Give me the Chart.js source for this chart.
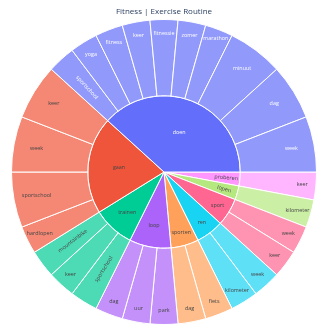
<!DOCTYPE html>
<html>
<head>
<meta charset="utf-8">
<title>Fitness | Exercise Routine</title>
<script src="https://cdn.jsdelivr.net/npm/chart.js@4.4.1/dist/chart.umd.min.js"></script>
<style>
    html, body { margin: 0; padding: 0; background: #fff; }
    #wrap { width: 330px; height: 330px; }
</style>
</head>
<body>
<div id="wrap"><canvas id="sunburst"></canvas></div>
<script>
// Inner ring: verbs, in the reference's order (counter-clockwise from 3 o'clock)
const verbs = ['doen', 'gaan', 'trainen', 'loop', 'sporten', 'ren', 'sport', 'lopen', 'proberen'];
const verbColors = ['#636efa', '#EF553B', '#00cc96', '#ab63fa', '#FFA15A', '#19d3f3', '#FF6692', '#B6E880', '#FF97FF'];

// Outer ring: words under each verb, with their counts
const nouns = [
    ['week', 'dag', 'minuut', 'marathon', 'zomer', 'fitnessie', 'keer', 'fitness', 'yoga', 'sportschool'],
    ['keer', 'week', 'sportschool', 'hardlopen'],
    ['mountainbike', 'keer', 'sportschool'],
    ['dag', 'uur', 'park'],
    ['dag', 'fiets'],
    ['kilometer', 'week'],
    ['keer', 'week'],
    ['kilometer'],
    ['keer']
];
const nounCounts = [
    [2, 2, 2, 1, 1, 1, 1, 1, 1, 1],
    [2, 2, 2, 1],
    [1, 1, 1],
    [1, 1, 1],
    [1, 1],
    [1, 1],
    [1, 1],
    [1],
    [1]
];

function hexToRgb(hex) {
    const n = parseInt(hex.slice(1), 16);
    return [(n >> 16) & 255, (n >> 8) & 255, n & 255];
}

function textColorFor(hex) {
    const [r, g, b] = hexToRgb(hex);
    const brightness = (r * 299 + g * 587 + b * 114) / 1000;
    return brightness >= 128 ? '#444' : '#fff';
}

// Chart.js draws clockwise, the reference runs counter-clockwise -> reverse
const innerNames = [], innerValues = [], innerColors = [], innerText = [];
const outerNames = [], outerValues = [], outerColors = [], outerText = [];

for (let i = verbs.length - 1; i >= 0; i--) {
    const counts = nounCounts[i];
    innerNames.push(verbs[i]);
    innerValues.push(counts.reduce((a, b) => a + b, 0));
    innerColors.push(verbColors[i]);
    innerText.push(textColorFor(verbColors[i]));

    const [r, g, b] = hexToRgb(verbColors[i]);
    for (let j = nouns[i].length - 1; j >= 0; j--) {
        outerNames.push(nouns[i][j]);
        outerValues.push(counts[j]);
        outerColors.push(`rgba(${r}, ${g}, ${b}, 0.7)`);
        outerText.push(textColorFor(verbColors[i]));
    }
}

// Labels inside the arcs: horizontal if they fit, else along the radius
const arcLabels = {
    id: 'arcLabels',
    afterDatasetsDraw(chart) {
        const ctx = chart.ctx;
        ctx.save();
        ctx.font = '5.4px "Open Sans"';
        ctx.textAlign = 'center';
        ctx.textBaseline = 'middle';

        chart.data.datasets.forEach((ds, di) => {
            const meta = chart.getDatasetMeta(di);
            meta.data.forEach((arc, i) => {
                const p = arc.getProps(['x', 'y', 'startAngle', 'endAngle', 'innerRadius', 'outerRadius'], true);
                const text = ds.names[i];
                const isPie = p.innerRadius < 1;
                const w = ctx.measureText(text).width + (isPie ? 1 : 0);
                const h = 6;
                const span = p.endAngle - p.startAngle;
                const mid = (p.startAngle + p.endAngle) / 2;
                const thick = p.outerRadius - p.innerRadius;

                function fits(cx, cy) {
                    const corners = [[-w / 2, -h / 2], [w / 2, -h / 2], [-w / 2, h / 2], [w / 2, h / 2]];
                    return corners.every(c => {
                        const dx = cx + c[0] - p.x;
                        const dy = cy + c[1] - p.y;
                        const r = Math.hypot(dx, dy);
                        if (r > p.outerRadius || r < p.innerRadius) return false;
                        if (r < 1) return true;
                        let a = Math.atan2(dy, dx);
                        while (a < p.startAngle) a += Math.PI * 2;
                        while (a > p.startAngle + Math.PI * 2) a -= Math.PI * 2;
                        const tol = 0.2 / r;
                        return a >= p.startAngle + tol && a <= p.endAngle - tol;
                    });
                }

                // narrow wedges of the centre pie push their label outwards,
                // the thinnest ones always go along the radius
                let fracs;
                if (isPie) fracs = span < 0.25 ? [] : [Math.min(0.5 + 0.12 / span, 0.85), 0.85, 0.8, 0.75];
                else fracs = span < 0.26 ? [0.82, 0.88] : [0.7];
                let pos = null;
                for (const f of fracs) {
                    const r = p.innerRadius + f * thick;
                    const cx = p.x + r * Math.cos(mid);
                    const cy = p.y + r * Math.sin(mid);
                    if (fits(cx, cy)) {
                        pos = { cx, cy, rot: 0 };
                        break;
                    }
                }
                if (!pos) {
                    const r = p.innerRadius + (isPie ? 0.82 : 0.5) * thick;
                    let rot = mid;
                    if (Math.cos(mid) < 0) rot += Math.PI;
                    pos = { cx: p.x + r * Math.cos(mid), cy: p.y + r * Math.sin(mid), rot };
                }

                ctx.save();
                ctx.translate(pos.cx, pos.cy);
                ctx.rotate(pos.rot);
                ctx.fillStyle = ds.textColors[i];
                ctx.fillText(text, 0, 0);
                ctx.restore();
            });
        });
        ctx.restore();
    }
};

new Chart(document.getElementById('sunburst'), {
    type: 'doughnut',
    data: {
        labels: outerNames,
        datasets: [
            {
                data: outerValues,
                names: outerNames,
                textColors: outerText,
                backgroundColor: outerColors,
                borderColor: '#fff',
                borderWidth: 1
            },
            {
                data: innerValues,
                names: innerNames,
                textColors: innerText,
                backgroundColor: innerColors,
                borderColor: '#fff',
                borderWidth: 1
            }
        ]
    },
    options: {
        responsive: true,
        maintainAspectRatio: false,
        animation: false,
        events: [],
        cutout: 0,
        rotation: 90,
        layout: {
            padding: { left: 0, right: 2, top: 0, bottom: 5 }
        },
        plugins: {
            legend: { display: false },
            tooltip: { enabled: false },
            title: {
                display: true,
                text: 'Fitness | Exercise Routine',
                color: '#2a3f5f',
                font: { family: 'Open Sans', size: 8, weight: 'normal' },
                padding: { top: 7, bottom: 2.4 }
            }
        }
    },
    plugins: [arcLabels]
});
</script>
</body>
</html>
